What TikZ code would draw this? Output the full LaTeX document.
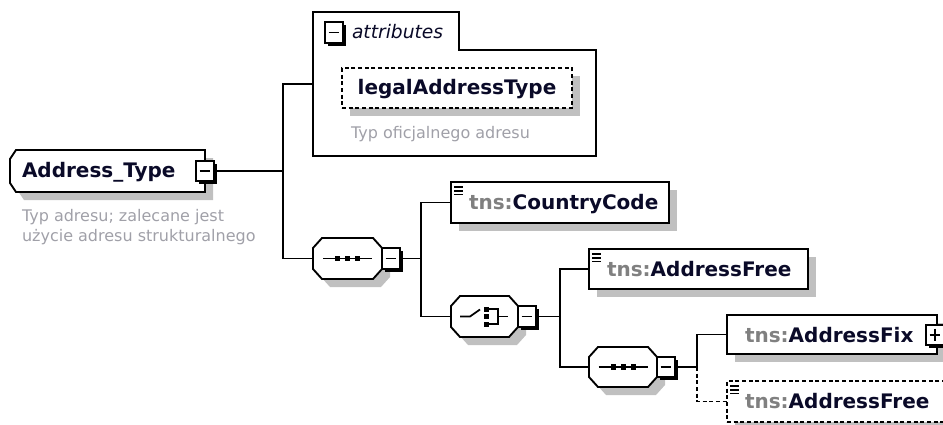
\documentclass[tikz,border=0pt]{standalone}
\usepackage{fontspec}
\setmainfont{DejaVu Sans}
\usetikzlibrary{shadows,fit}
\definecolor{shadowgray}{RGB}{192,192,192}
\definecolor{tnsgray}{RGB}{128,128,128}
\definecolor{desccol}{RGB}{160,160,168}
\definecolor{namecol}{RGB}{10,10,40}
\newcommand\namefont{\fontsize{15}{18}\selectfont\bfseries}
\newcommand\descfont{\fontsize{12}{15}\selectfont}
\newcommand\attrfont{\fontsize{14}{17}\selectfont\itshape}
\newcommand\octshape[5]{%
  \fill[shadowgray, shift={(8,8)}] ({#2+9},#3) -- ({#4-9},#3) -- (#4,{#3+10}) -- (#4,{#5-10}) -- ({#4-9},#5) -- ({#2+9},#5) -- (#2,{#5-10}) -- (#2,{#3+10}) -- cycle;
  \filldraw[fill=white, boxline] ({#2+9},#3) -- ({#4-9},#3) -- (#4,{#3+10}) -- (#4,{#5-10}) -- ({#4-9},#5) -- ({#2+9},#5) -- (#2,{#5-10}) -- (#2,{#3+10}) -- cycle;
  \node[fit={(#2,#3) (#4,#5)}, inner sep=0pt, outer sep=0pt] (#1) {};
}
\newcommand\seqsym[1]{%
  \begin{scope}[shift={(#1.center)}]
    \draw[line width=1.3pt] (-24.5,0) -- (24.5,0);
    \fill (-12.5,-2.8) rectangle (-7.5,2.8);
    \fill (-2.5,-2.8) rectangle (2.5,2.8);
    \fill (7.5,-2.8) rectangle (12.5,2.8);
  \end{scope}}
\newcommand\ficon[1]{%
  \begin{scope}[shift={(#1.north west)}]
    \draw[line width=1.3pt] (3,5) -- (12,5) (3,8.7) -- (12,8.7) (3,12.4) -- (12,12.4);
  \end{scope}}
\begin{document}
\begin{tikzpicture}[x=0.75pt, y=-0.75pt,
  boxline/.style={line width=1.4pt},
  conn/.style={line width=1.4pt},
  dashline/.style={dash pattern=on 3pt off 2pt},
  mbox/.style={draw, fill=white, line width=1.3pt, minimum width=14pt, minimum height=15.5pt,
    inner sep=0pt, outer sep=0pt,
    drop shadow={shadow xshift=2.2pt, shadow yshift=-2.2pt, opacity=1, fill=black},
    path picture={\draw[line width=1.2pt] ([xshift=3pt]path picture bounding box.west) -- ([xshift=-3pt]path picture bounding box.east);}},
  pbox/.style={mbox,
    path picture={\draw[line width=1.2pt] ([xshift=3pt]path picture bounding box.west) -- ([xshift=-3pt]path picture bounding box.east);
      \draw[line width=1.2pt] ([yshift=-3pt]path picture bounding box.north) -- ([yshift=3pt]path picture bounding box.south);}},
  tbox/.style={draw, fill=white, boxline, inner sep=0pt, outer sep=0pt,
    drop shadow={shadow xshift=6pt, shadow yshift=-6pt, opacity=1, fill=shadowgray}},
  txt/.style={inner sep=0pt, outer sep=0pt},
  nametxt/.style={txt, font=\namefont, text=namecol},
  desctxt/.style={txt, font=\descfont, text=desccol}
]
\useasboundingbox (0,0) rectangle (943,425);
\clip (0,0) rectangle (943,425);

% Address_Type element
\fill[shadowgray, shift={(8,8)}] (16,150) -- (205,150) -- (205,192) -- (16,192) -- (10,183) -- (10,159) -- cycle;
\filldraw[fill=white, boxline] (16,150) -- (205,150) -- (205,192) -- (16,192) -- (10,183) -- (10,159) -- cycle;
\node[fit={(10,150) (205,192)}, inner sep=0pt, outer sep=0pt] (at) {};
\node[nametxt, anchor=base west] (att) at (22,177.5) {Address\_Type};
\node[mbox] (atm) at (205,171) {};
\node[desctxt, anchor=base west] (atd1) at (22,221.5) {Typ adresu; zalecane jest};
\node[desctxt, anchor=base west] (atd2) at (22,241.5) {użycie adresu strukturalnego};

% attributes
\filldraw[fill=white, boxline] (313,12) -- (459,12) -- (459,50) -- (596,50) -- (596,156) -- (313,156) -- cycle;
\node[fit={(313,12) (596,156)}, inner sep=0pt, outer sep=0pt] (attr) {};
\node[mbox] (attrm) at (334,32.5) {};
\node[txt, anchor=base west, font=\attrfont, text=namecol] (attrt) at (352,38.5) {attributes};
\node[tbox, dashline, fit={(342,68) (572,108)}] (legal) {};
\node[nametxt, anchor=base] (legalt) at (457,94.5) {legalAddressType};
\node[desctxt, anchor=base west] (legald) at (351,138.5) {Typ oficjalnego adresu};

% sequence 1
\octshape{s1}{313}{238}{382}{279}
\seqsym{s1}
\node[mbox] (s1m) at (391,258.5) {};

% choice
\octshape{ch}{451}{296}{518}{337}
\begin{scope}[shift={(ch.center)}]
  \draw[line width=1.3pt] (-24.5,0) -- (-14.5,0) -- (-4.5,-7);
  \fill (-1,-10) rectangle (4,-5);
  \fill (-1,-2.5) rectangle (4,2.5);
  \fill (-1,5) rectangle (4,10);
  \draw[line width=1.3pt] (4,-7.5) -- (13.5,-7.5) -- (13.5,7.5) -- (4,7.5);
  \draw[line width=1.3pt] (13.5,0) -- (23.5,0);
\end{scope}
\node[mbox] (chm) at (527,316.5) {};

% CountryCode
\node[tbox, fit={(451,182) (669,223)}] (cc) {};
\ficon{cc}
\node[nametxt, anchor=base west] (cct) at (469,209.5) {\textcolor{tnsgray}{tns:}CountryCode};

% AddressFree 1
\node[tbox, fit={(589,249) (808,289)}] (af1) {};
\ficon{af1}
\node[nametxt, anchor=base west] (af1t) at (607,276) {\textcolor{tnsgray}{tns:}AddressFree};

% sequence 2
\octshape{s2}{589}{347}{657}{387}
\seqsym{s2}
\node[mbox] (s2m) at (666,367) {};

% AddressFix
\node[tbox, fit={(727,315) (937,354)}] (afix) {};
\node[nametxt, anchor=base west] (afixt) at (745,342) {\textcolor{tnsgray}{tns:}AddressFix};
\node[pbox] (afixp) at (935,335) {};

% AddressFree 2 (optional)
\node[tbox, dashline, fit={(727,381) (946,422)}] (af2) {};
\ficon{af2}
\node[nametxt, anchor=base west] (af2t) at (745,408.5) {\textcolor{tnsgray}{tns:}AddressFree};

% connectors
\coordinate (j1) at (283,171);
\draw[conn] (atm.east) -- (j1);
\draw[conn] (j1) |- (attr.west);
\draw[conn] (j1) |- (s1.west);
\coordinate (j2) at (421,258.5);
\draw[conn] (s1m.east) -- (j2);
\draw[conn] (j2) |- (cc.west);
\draw[conn] (j2) |- (ch.west);
\coordinate (j3) at (560,316.5);
\draw[conn] (chm.east) -- (j3);
\draw[conn] (j3) |- (af1.west);
\draw[conn] (j3) |- (s2.west);
\coordinate (j4) at (697,367);
\draw[conn] (s2m.east) -- (j4);
\draw[conn] (j4) |- (afix.west);
\draw[conn, dashline] (j4) |- (af2.west);
\end{tikzpicture}
\end{document}
